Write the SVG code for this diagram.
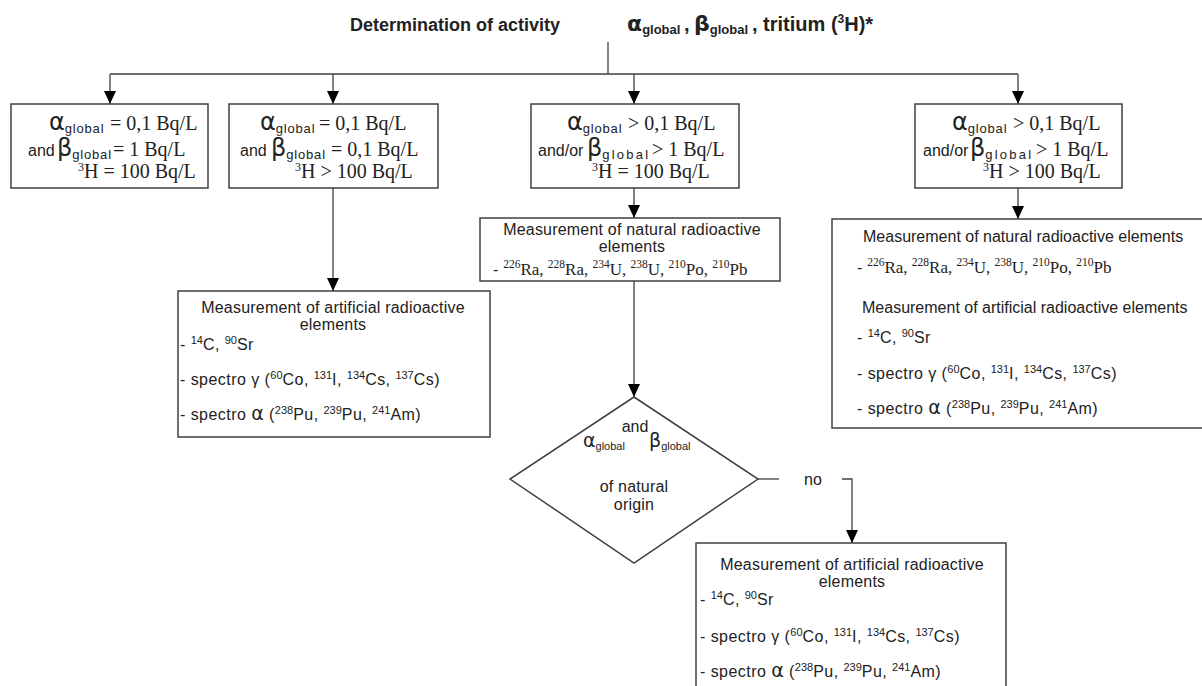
<svg xmlns="http://www.w3.org/2000/svg" width="1202" height="686" viewBox="0 0 1202 686">
<style>
text{fill:#222}
.ttl{font-family:"Liberation Sans",Arial,sans-serif;font-weight:bold;font-size:18px}
.ttl2{font-family:"Liberation Sans",Arial,sans-serif;font-weight:bold;font-size:20px}
.ttlg{font-family:"DejaVu Sans",sans-serif;font-weight:bold;font-size:22px}
.ttls{font-family:"Liberation Sans",Arial,sans-serif;font-weight:bold;font-size:13px}
.gk{font-family:"DejaVu Sans",sans-serif;font-size:24px}
.sub{font-family:"Liberation Sans",Arial,sans-serif;font-size:13px;letter-spacing:0.8px}
.subw{font-family:"Liberation Sans",Arial,sans-serif;font-size:13px;letter-spacing:2.2px}
.tm{font-family:"Liberation Serif","Times New Roman",serif;font-size:20px}
.tsp{font-family:"Liberation Serif","Times New Roman",serif;font-size:12px}
.ar{font-family:"Liberation Sans",Arial,sans-serif;font-size:16px;letter-spacing:0.2px}
.ar0{font-family:"Liberation Sans",Arial,sans-serif;font-size:16px}
.arl{font-family:"Liberation Sans",Arial,sans-serif;font-size:16px;letter-spacing:0.45px}
.and{font-family:"Liberation Sans",Arial,sans-serif;font-size:16px}
.sp{font-size:11px;letter-spacing:0}
.nuc{font-family:"Liberation Serif","Times New Roman",serif;font-size:17px;letter-spacing:0}
.nsp{font-size:11.5px}
.ga{font-family:"DejaVu Sans",sans-serif;font-size:19px}
.dsub{font-family:"Liberation Sans",Arial,sans-serif;font-size:11px}
.box{fill:#fff;stroke:#404040;stroke-width:1.5}
.ln{fill:none;stroke:#404040;stroke-width:1.3}
</style>
<defs>
<marker id="ah" markerUnits="userSpaceOnUse" markerWidth="14" markerHeight="14" refX="13" refY="6" orient="auto">
<path d="M0,0 L13,6 L0,12 z" fill="#000"/>
</marker>
</defs>

<g id="title">
<text x="350" y="31" class="ttl">Determination of activity</text>
<text x="627" y="31"><tspan class="ttlg">α</tspan><tspan class="ttls" dy="3">global</tspan></text>
<text x="684" y="31" class="ttl2">,</text>
<text x="694" y="31"><tspan class="ttlg">β</tspan><tspan class="ttls" dy="3">global</tspan></text>
<text x="752" y="31" class="ttl2">, tritium (<tspan font-size="12px" dy="-8">3</tspan><tspan dy="8">H)*</tspan></text>
</g>

<g id="connectors">
<path class="ln" d="M608,42 V74 M110,74 H1018"/>
<path class="ln" d="M110,74 V104" marker-end="url(#ah)"/>
<path class="ln" d="M333,74 V104" marker-end="url(#ah)"/>
<path class="ln" d="M634,74 V104" marker-end="url(#ah)"/>
<path class="ln" d="M1018,74 V104" marker-end="url(#ah)"/>
<path class="ln" d="M333,188 V291" marker-end="url(#ah)"/>
<path class="ln" d="M634,188 V218" marker-end="url(#ah)"/>
<path class="ln" d="M1018,188 V219" marker-end="url(#ah)"/>
<path class="ln" d="M634,281 V397" marker-end="url(#ah)"/>
<path class="ln" d="M758,479 H779"/>
<path class="ln" d="M842,479 H852 V543" marker-end="url(#ah)"/>
<text x="804" y="485" class="ar">no</text>
</g>

<g id="box1">
<rect class="box" x="11" y="104" width="197" height="84"/>
<text x="49" y="130"><tspan class="gk">α</tspan><tspan class="sub" dy="3">global</tspan></text>
<text x="110" y="130" class="tm">= 0,1 Bq/L</text>
<text x="28" y="156" class="and">and</text>
<text x="57" y="156"><tspan class="gk">β</tspan><tspan class="sub" dy="3">global</tspan></text>
<text x="113" y="156" class="tm">= 1 Bq/L</text>
<text x="78" y="178" class="tm"><tspan class="tsp" dy="-7">3</tspan><tspan dy="7">H = 100 Bq/L</tspan></text>
</g>

<g id="box2">
<rect class="box" x="229" y="104" width="209" height="84"/>
<text x="260" y="130"><tspan class="gk">α</tspan><tspan class="sub" dy="3">global</tspan></text>
<text x="319" y="130" class="tm">= 0,1 Bq/L</text>
<text x="240" y="156" class="and">and</text>
<text x="271" y="156"><tspan class="gk">β</tspan><tspan class="sub" dy="3">global</tspan></text>
<text x="331" y="156" class="tm">= 0,1 Bq/L</text>
<text x="295" y="178" class="tm"><tspan class="tsp" dy="-7">3</tspan><tspan dy="7">H &gt; 100 Bq/L</tspan></text>
</g>

<g id="box3">
<rect class="box" x="531" y="104" width="208" height="84"/>
<text x="567" y="130"><tspan class="gk">α</tspan><tspan class="sub" dy="3">global</tspan></text>
<text x="628" y="130" class="tm">&gt; 0,1 Bq/L</text>
<text x="538" y="156" class="and">and/or</text>
<text x="587" y="156"><tspan class="gk">β</tspan><tspan class="subw" dy="3">global</tspan></text>
<text x="652" y="156" class="tm">&gt; 1 Bq/L</text>
<text x="592" y="178" class="tm"><tspan class="tsp" dy="-7">3</tspan><tspan dy="7">H = 100 Bq/L</tspan></text>
</g>

<g id="box4">
<rect class="box" x="915" y="104" width="207" height="84"/>
<text x="952" y="130"><tspan class="gk">α</tspan><tspan class="sub" dy="3">global</tspan></text>
<text x="1013" y="130" class="tm">&gt; 0,1 Bq/L</text>
<text x="923" y="156" class="and">and/or</text>
<text x="970" y="156"><tspan class="gk">β</tspan><tspan class="subw" dy="3">global</tspan></text>
<text x="1036" y="156" class="tm">&gt; 1 Bq/L</text>
<text x="983" y="178" class="tm"><tspan class="tsp" dy="-7">3</tspan><tspan dy="7">H &gt; 100 Bq/L</tspan></text>
</g>

<g id="artificial-left">
<rect class="box" x="178" y="291" width="312" height="146"/>
<text x="333" y="313" class="ar" text-anchor="middle">Measurement of artificial radioactive</text>
<text x="333" y="330" class="ar" text-anchor="middle">elements</text>
<text x="180" y="350" class="arl">- <tspan class="sp" dy="-6">14</tspan><tspan dy="6">C, </tspan><tspan class="sp" dy="-6">90</tspan><tspan dy="6">Sr</tspan></text>
<text x="180" y="385" class="arl">- spectro γ (<tspan class="sp" dy="-6">60</tspan><tspan dy="6">Co, </tspan><tspan class="sp" dy="-6">131</tspan><tspan dy="6">I, </tspan><tspan class="sp" dy="-6">134</tspan><tspan dy="6">Cs, </tspan><tspan class="sp" dy="-6">137</tspan><tspan dy="6">Cs)</tspan></text>
<text x="180" y="420" class="arl">- spectro <tspan class="ga">α</tspan> (<tspan class="sp" dy="-6">238</tspan><tspan dy="6">Pu, </tspan><tspan class="sp" dy="-6">239</tspan><tspan dy="6">Pu, </tspan><tspan class="sp" dy="-6">241</tspan><tspan dy="6">Am)</tspan></text>
</g>

<g id="natural-middle">
<rect class="box" x="480" y="218" width="300" height="63"/>
<text x="632" y="235" class="ar" text-anchor="middle">Measurement of natural radioactive</text>
<text x="632" y="252" class="ar" text-anchor="middle">elements</text>
<text x="493" y="275" class="ar">- <tspan class="nuc"><tspan class="nsp" dy="-7">226</tspan><tspan dy="7">Ra, </tspan><tspan class="nsp" dy="-7">228</tspan><tspan dy="7">Ra, </tspan><tspan class="nsp" dy="-7">234</tspan><tspan dy="7">U, </tspan><tspan class="nsp" dy="-7">238</tspan><tspan dy="7">U, </tspan><tspan class="nsp" dy="-7">210</tspan><tspan dy="7">Po, </tspan><tspan class="nsp" dy="-7">210</tspan><tspan dy="7">Pb</tspan></tspan></text>
</g>

<g id="both-right">
<rect class="box" x="832" y="219" width="375" height="209"/>
<text x="863" y="242" class="ar0">Measurement of natural radioactive elements</text>
<text x="857" y="273" class="ar">- <tspan class="nuc"><tspan class="nsp" dy="-7">226</tspan><tspan dy="7">Ra, </tspan><tspan class="nsp" dy="-7">228</tspan><tspan dy="7">Ra, </tspan><tspan class="nsp" dy="-7">234</tspan><tspan dy="7">U, </tspan><tspan class="nsp" dy="-7">238</tspan><tspan dy="7">U, </tspan><tspan class="nsp" dy="-7">210</tspan><tspan dy="7">Po, </tspan><tspan class="nsp" dy="-7">210</tspan><tspan dy="7">Pb</tspan></tspan></text>
<text x="862" y="313" class="ar0">Measurement of artificial radioactive elements</text>
<text x="857" y="343" class="arl">- <tspan class="sp" dy="-6">14</tspan><tspan dy="6">C, </tspan><tspan class="sp" dy="-6">90</tspan><tspan dy="6">Sr</tspan></text>
<text x="857" y="379" class="arl">- spectro γ (<tspan class="sp" dy="-6">60</tspan><tspan dy="6">Co, </tspan><tspan class="sp" dy="-6">131</tspan><tspan dy="6">I, </tspan><tspan class="sp" dy="-6">134</tspan><tspan dy="6">Cs, </tspan><tspan class="sp" dy="-6">137</tspan><tspan dy="6">Cs)</tspan></text>
<text x="857" y="414" class="arl">- spectro <tspan class="ga">α</tspan> (<tspan class="sp" dy="-6">238</tspan><tspan dy="6">Pu, </tspan><tspan class="sp" dy="-6">239</tspan><tspan dy="6">Pu, </tspan><tspan class="sp" dy="-6">241</tspan><tspan dy="6">Am)</tspan></text>
</g>

<g id="decision">
<polygon class="box" points="634,397 758,479 634,563 510,479"/>
<text x="635" y="432" class="and" text-anchor="middle">and</text>
<text x="583" y="447"><tspan class="ga" font-size="17px">α</tspan><tspan class="dsub" dy="3">global</tspan></text>
<text x="649" y="447"><tspan class="ga" font-size="17px">β</tspan><tspan class="dsub" dy="3">global</tspan></text>
<text x="634" y="492" class="ar" text-anchor="middle">of natural</text>
<text x="634" y="510" class="ar" text-anchor="middle">origin</text>
</g>

<g id="artificial-bottom">
<rect class="box" x="696" y="543" width="310" height="160"/>
<text x="852" y="570" class="ar" text-anchor="middle">Measurement of artificial radioactive</text>
<text x="852" y="587" class="ar" text-anchor="middle">elements</text>
<text x="700" y="605" class="arl">- <tspan class="sp" dy="-6">14</tspan><tspan dy="6">C, </tspan><tspan class="sp" dy="-6">90</tspan><tspan dy="6">Sr</tspan></text>
<text x="700" y="642" class="arl">- spectro γ (<tspan class="sp" dy="-6">60</tspan><tspan dy="6">Co, </tspan><tspan class="sp" dy="-6">131</tspan><tspan dy="6">I, </tspan><tspan class="sp" dy="-6">134</tspan><tspan dy="6">Cs, </tspan><tspan class="sp" dy="-6">137</tspan><tspan dy="6">Cs)</tspan></text>
<text x="700" y="677" class="arl">- spectro <tspan class="ga">α</tspan> (<tspan class="sp" dy="-6">238</tspan><tspan dy="6">Pu, </tspan><tspan class="sp" dy="-6">239</tspan><tspan dy="6">Pu, </tspan><tspan class="sp" dy="-6">241</tspan><tspan dy="6">Am)</tspan></text>
</g>
</svg>
